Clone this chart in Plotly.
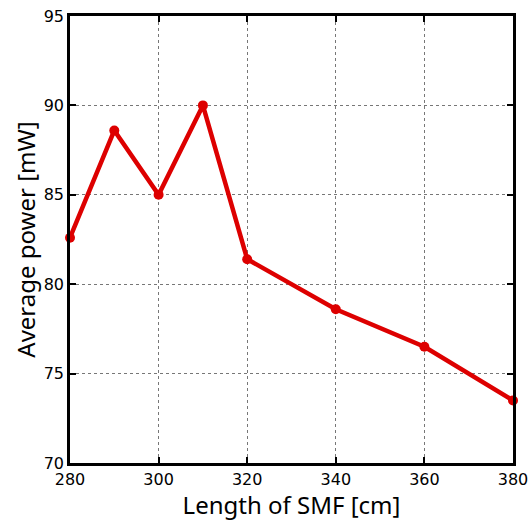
import plotly.graph_objects as go

length_cm = [280, 290, 300, 310, 320, 340, 360, 380]
power_mw = [82.6, 88.6, 85.0, 90.0, 81.4, 78.6, 76.5, 73.5]

fig = go.Figure()
fig.add_trace(go.Scatter(
    x=length_cm, y=power_mw, mode="lines+markers",
    line=dict(color="#dd0000", width=4.5),
    marker=dict(color="#dd0000", size=10),
    cliponaxis=False,
))

axis_common = dict(
    showline=True, linecolor="black", linewidth=2.5, mirror="ticks",
    ticks="inside", ticklen=6, tickwidth=2, tickcolor="black",
    showgrid=True, gridcolor="#777777", griddash="dot", gridwidth=1,
    zeroline=False, automargin=False, ticklabeloverflow="allow",
    tickfont=dict(family="DejaVu Sans", size=16, color="black"),
)

fig.update_xaxes(range=[280, 380], dtick=20, tick0=280,
                 title=dict(text="Length of SMF [cm]", font=dict(family="Noto Sans", size=24, color="black"), standoff=0),
                 **axis_common)
fig.update_yaxes(range=[70, 95], dtick=5, tick0=70,
                 title=dict(text="Average power [mW]", font=dict(family="Noto Sans", size=24, color="black"), standoff=2),
                 **axis_common)

fig.update_layout(
    width=531, height=521,
    margin=dict(l=70, r=18, t=16, b=58),
    paper_bgcolor="white", plot_bgcolor="white",
    showlegend=False,
)

fig.write_html("out.html", config={"displayModeBar": False},
               post_script="document.body.style.margin='0px';document.body.style.overflow='hidden';")
